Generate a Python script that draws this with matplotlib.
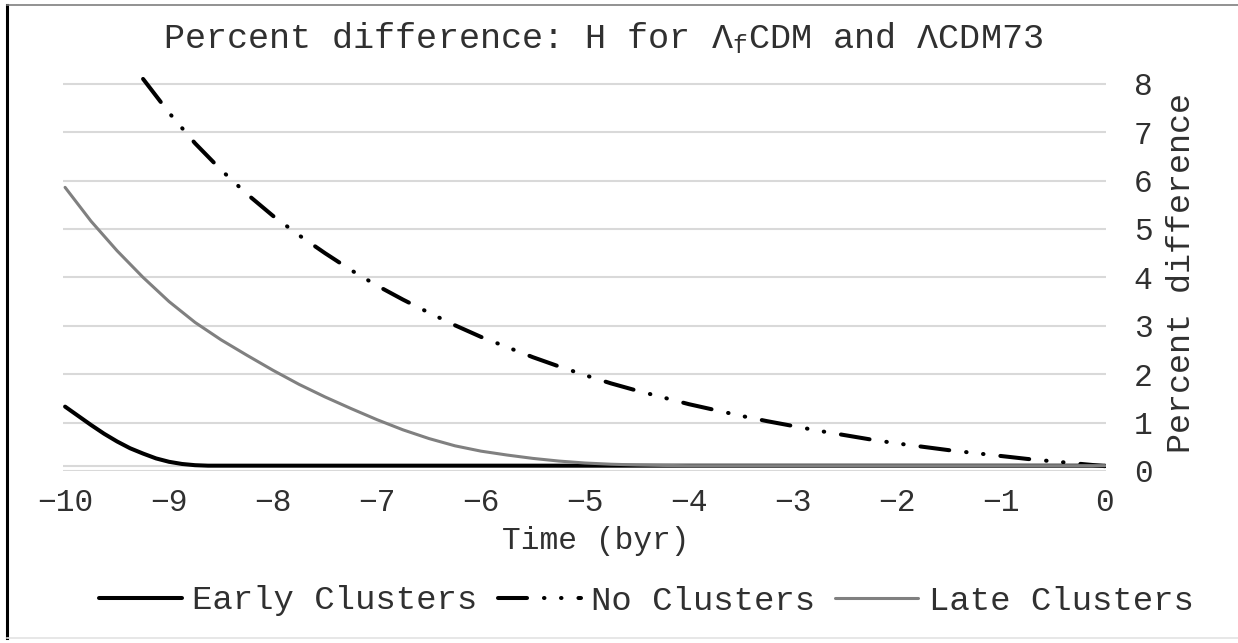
import matplotlib
matplotlib.use("Agg")
import matplotlib.pyplot as plt
from matplotlib.lines import Line2D

plt.rcParams['font.family'] = ['Liberation Mono', 'DejaVu Sans Mono']
plt.rcParams['mathtext.fontset'] = 'custom'
plt.rcParams['mathtext.rm'] = 'Liberation Mono'
plt.rcParams['mathtext.it'] = 'Liberation Mono'
plt.rcParams['lines.scale_dashes'] = False

# ---- data ----
no_x = [-9.25, -9.0, -8.75, -8.5, -8.25, -8.0, -7.75, -7.5, -7.25, -7.0, -6.75, -6.5,
        -6.25, -6.0, -5.75, -5.5, -5.25, -5.0, -4.75, -4.5, -4.25, -4.0, -3.75, -3.5,
        -3.25, -3.0, -2.75, -2.5, -2.25, -2.0, -1.75, -1.5, -1.25, -1.0, -0.75, -0.5,
        -0.25, 0.0]
no_y = [8.10, 7.40, 6.77, 6.22, 5.72, 5.27, 4.87, 4.50, 4.15, 3.83, 3.54, 3.27,
        3.01, 2.77, 2.56, 2.35, 2.16, 1.98, 1.81, 1.66, 1.52, 1.38, 1.26, 1.14,
        1.03, 0.93, 0.83, 0.74, 0.65, 0.57, 0.50, 0.43, 0.37, 0.31, 0.25, 0.20,
        0.15, 0.10]

late_x = [-10.0, -9.75, -9.5, -9.25, -9.0, -8.75, -8.5, -8.25, -8.0, -7.75, -7.5, -7.25,
          -7.0, -6.75, -6.5, -6.25, -6.0, -5.75, -5.5, -5.25, -5.0, -4.75, -4.5, -4.25,
          -4.0, 0.0]
late_y = [5.86, 5.16, 4.55, 4.00, 3.50, 3.07, 2.71, 2.39, 2.08, 1.79, 1.53, 1.29,
          1.06, 0.85, 0.67, 0.52, 0.41, 0.33, 0.26, 0.205, 0.165, 0.14, 0.125, 0.115,
          0.11, 0.11]

early_x = [-10.0, -9.875, -9.75, -9.625, -9.5, -9.375, -9.25, -9.125, -9.0, -8.875,
           -8.75, -8.625, 0.0]
early_y = [1.33, 1.14, 0.95, 0.77, 0.61, 0.47, 0.36, 0.26, 0.19, 0.145,
           0.12, 0.11, 0.11]

x_ticks = [-10, -9, -8, -7, -6, -5, -4, -3, -2, -1, 0]
y_ticks = [0, 1, 2, 3, 4, 5, 6, 7, 8]
baseline = 0.11

title_text = "Percent difference: H for Λ$_{\\mathrm{f}}$CDM and ΛCDM73"
x_title = "Time (byr)"
y_title = "Percent difference"
labels = ["Early Clusters", "No Clusters", "Late Clusters"]

W, H = 1238, 643
fig = plt.figure(figsize=(W / 100, H / 100), dpi=100)
ax = fig.add_axes([63 / W, 1 - 471 / H, (1106 - 63) / W, (471 - 77) / H])

grid_c = '#d9d9d9'
text_c = '#303030'
ax.set_xlim(-10.02, 0.01)
ax.set_ylim(0, 8.14)
for v in y_ticks:
    ax.axhline(v, color=grid_c, lw=1.5, zorder=1)
ax.axhline(baseline, color=grid_c, lw=1.5, zorder=1)

dash = (0, (20.9, 12.2, 0.36, 11.9, 0.36, 12.2))
l1, = ax.plot(early_x, early_y, color='black', lw=2.9, solid_capstyle='round',
              solid_joinstyle='round', zorder=3)
l2, = ax.plot(no_x, no_y, color='black', lw=2.9, linestyle=dash,
              dash_capstyle='round', zorder=3)
l3, = ax.plot(late_x, late_y, color='#808080', lw=2.2, solid_capstyle='round',
              solid_joinstyle='round', zorder=4)

for s in ax.spines.values():
    s.set_visible(False)
ax.set_xticks(x_ticks)
ax.set_yticks(y_ticks)
ax.set_xticklabels([("\u2212" + str(-t)) if t < 0 else str(t) for t in x_ticks])
ax.yaxis.tick_right()
ax.tick_params(axis='both', length=0, labelsize=22.5, colors=text_c)
ax.tick_params(axis='x', pad=12)
ax.tick_params(axis='y', pad=20)

fig.text(603 / W, 1 - 38 / H, title_text, ha='center', va='center', fontsize=25.3,
         color=text_c)
fig.text(596 / W, 1 - 541 / H, x_title, ha='center', va='center', fontsize=22.5,
         color=text_c)
fig.text(1182 / W, 1 - 273 / H, y_title, ha='center', va='center', rotation=90,
         fontsize=24, color=text_c)

leg = fig.legend([l1, l2, l3], labels, loc='center', bbox_to_anchor=(646 / W, 1 - 601 / H),
                 ncol=3, frameon=False, fontsize=24.5, handlelength=2.44,
                 handletextpad=0.3, columnspacing=0.6, borderpad=0, borderaxespad=0)
for t in leg.get_texts():
    t.set_color(text_c)

# outer border (partly visible in reference)
fig.add_artist(Line2D([7 / W, 7 / W], [1 - 5 / H, 1 - 638 / H], color='black', lw=2.2,
                      transform=fig.transFigure))
fig.add_artist(Line2D([7 / W, 1], [1 - 5 / H, 1 - 5 / H], color='#7f7f7f', lw=1.2,
                      transform=fig.transFigure))
fig.add_artist(Line2D([7 / W, 1], [1 - 638 / H, 1 - 638 / H], color='#e3e3e3', lw=1.2,
                      transform=fig.transFigure))

fig.savefig("out.png", dpi=100)
